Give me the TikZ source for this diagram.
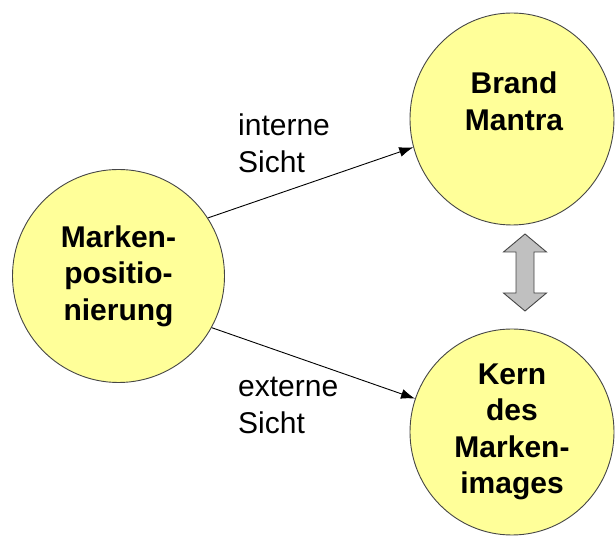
\documentclass[tikz,border=0pt]{standalone}
\usepackage{fontspec}
\setmainfont{Liberation Sans}
\usetikzlibrary{arrows.meta,shapes.geometric}
\definecolor{paleyellow}{RGB}{255,255,153}
\definecolor{rimgray}{RGB}{70,70,70}
\definecolor{swapgray}{RGB}{192,192,192}
\tikzset{
  markenkreis/.style={ellipse,draw=rimgray,fill=paleyellow,line width=0.9bp,inner sep=0pt,
    font=\fontsize{30bp}{36.5bp}\selectfont\bfseries,align=center},
  sicht/.style={inner sep=0pt,anchor=north west,align=left,font=\fontsize{30bp}{37bp}\selectfont},
  swaparrow/.style={draw=rimgray,fill=swapgray,line width=0.9bp,line join=miter},
}
\begin{document}
\begin{tikzpicture}[>={Latex[length=14bp,width=10bp]},line join=bevel,]
\useasboundingbox (0bp,0bp) rectangle (615bp,537bp);
%%
\node (node_0) at (118.5bp,261bp) [markenkreis,minimum width=212bp,minimum height=213bp] {Marken-\\positio-\\nierung};
  \node (node_1) at (512bp,418bp) [markenkreis,minimum width=204bp,minimum height=212bp] {};
  \node (node_2) at (512bp,105bp) [markenkreis,minimum width=204bp,minimum height=206bp] {Kern\\des\\Marken-\\images};
  \node (text_1) at (514bp,436bp) [font=\fontsize{30bp}{37bp}\selectfont\bfseries,align=center,inner sep=0pt] {Brand\\Mantra};
  \node (sicht_1) at (238bp,423bp) [sicht] {interne\\Sicht};
  \node (sicht_2) at (238bp,160bp) [sicht] {externe\\Sicht};
  \draw [black,line width=0.9bp,->] (node_0.33) -- (node_1.196);
  \draw [black,line width=0.9bp,->] (node_0.-29.5) -- (node_2.161);
%
\draw [swaparrow] (525bp,303bp) -- (546.5bp,285bp) -- (534bp,285bp) -- (534bp,244bp) -- (546.5bp,244bp)
  -- (525bp,226bp) -- (503.5bp,244bp) -- (516bp,244bp) -- (516bp,285bp) -- (503.5bp,285bp) -- cycle;
\end{tikzpicture}
\end{document}
